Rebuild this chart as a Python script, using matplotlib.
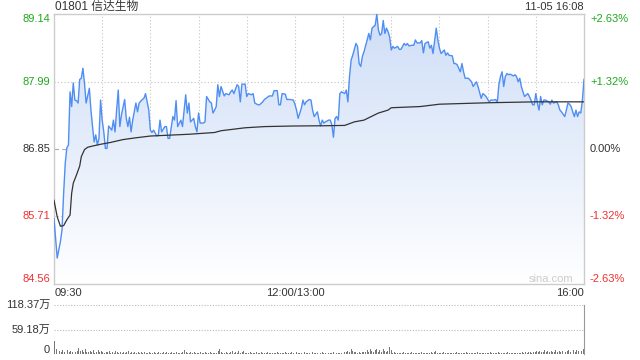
import matplotlib
matplotlib.use('Agg')
import matplotlib.pyplot as plt
import numpy as np
from matplotlib.colors import LinearSegmentedColormap

plt.rcParams['font.family'] = ['Liberation Sans', 'Noto Sans CJK SC', 'DejaVu Sans']

title = '01801 信达生物'
stamp = '11-05 16:08'
prev_close = 86.85
price_ticks = [89.14, 87.99, 86.85, 85.71, 84.56]
pct_labels = ['+2.63%', '+1.32%', '0.00%', '-1.32%', '-2.63%']
time_labels = ['09:30', '12:00/13:00', '16:00']
time_label_min = [0, 150, 330]
vol_ticks = [118.37, 59.18, 0]
vol_tick_labels = ['118.37万', '59.18万', '0']

# minutes since 09:30 (lunch break removed), price
price_min = [0, 2, 4, 5, 6, 7, 8, 9, 10, 11, 12, 13, 14, 15, 16, 17, 18, 19, 20, 22,
             23, 24, 25, 26, 27, 28, 29, 30, 31, 32, 33, 34, 36, 37, 38, 39, 40, 41, 42, 44,
             45, 46, 47, 48, 49, 51, 52, 53, 55, 56, 57, 59, 60, 61, 62, 64, 65, 66, 67, 69,
             70, 71, 72, 74, 75, 76, 77, 79, 80, 82, 83, 84, 85, 87, 88, 89, 90, 91, 93, 94,
             95, 97, 98, 99, 100, 101, 102, 103, 104, 106, 107, 109, 110, 111, 112, 114, 115, 116, 117, 119,
             120, 121, 123, 124, 125, 127, 128, 130, 131, 132, 134, 136, 137, 139, 140, 141, 142, 144, 145, 147,
             149, 150, 151, 152, 154, 155, 156, 157, 159, 160, 161, 162, 164, 165, 166, 167, 168, 169, 171, 172,
             173, 174, 175, 176, 177, 178, 179, 181, 182, 183, 184, 185, 186, 188, 189, 190, 191, 192, 193, 195,
             196, 197, 198, 200, 201, 202, 203, 204, 205, 206, 207, 208, 209, 210, 211, 212, 214, 215, 216, 218,
             219, 220, 221, 223, 224, 225, 226, 228, 229, 230, 231, 233, 234, 235, 236, 238, 239, 240, 241, 243,
             244, 245, 246, 248, 249, 250, 251, 253, 254, 255, 256, 258, 259, 260, 261, 263, 264, 266, 267, 268,
             269, 271, 272, 274, 275, 276, 277, 278, 279, 280, 281, 282, 283, 284, 286, 287, 288, 289, 290, 291,
             292, 293, 295, 296, 297, 298, 299, 300, 301, 302, 303, 304, 305, 306, 308, 309, 310, 311, 313, 314,
             315, 316, 318, 319, 320, 321, 322, 323, 324, 325, 326, 327, 328, 329, 330]
price = [85.67, 85.00, 85.28, 85.48, 86.10, 86.61, 86.87, 86.92, 87.82, 87.57, 87.97, 87.68, 87.67, 87.63, 88.03, 88.05, 88.22, 87.96, 87.63, 87.88,
         87.51, 87.23, 86.97, 87.09, 86.92, 87.03, 87.68, 87.34, 87.14, 86.86, 86.86, 87.24, 87.17, 87.34, 87.14, 87.51, 87.85, 87.23, 87.43, 87.69,
         87.37, 87.23, 87.39, 87.14, 87.34, 87.63, 87.48, 87.63, 87.69, 87.71, 87.79, 87.51, 87.17, 87.13, 87.17, 87.07, 87.09, 87.34, 87.14, 87.23,
         87.23, 87.03, 87.03, 87.40, 87.34, 87.67, 87.23, 87.34, 87.23, 87.77, 87.46, 87.63, 87.31, 87.37, 87.23, 87.14, 87.46, 87.29, 87.29, 87.31,
         87.74, 87.65, 87.63, 87.46, 87.51, 87.57, 87.94, 87.74, 87.91, 87.75, 87.79, 87.77, 87.82, 87.85, 87.79, 87.94, 87.91, 87.65, 87.95, 87.95,
         87.74, 87.79, 87.77, 87.79, 87.63, 87.60, 87.60, 87.65, 87.69, 87.71, 87.75, 87.75, 87.84, 87.84, 87.60, 87.60, 87.79, 87.78, 87.69, 87.69,
         87.68, 87.61, 87.51, 87.37, 87.54, 87.68, 87.60, 87.65, 87.69, 87.68, 87.51, 87.40, 87.48, 87.34, 87.24, 87.34, 87.29, 87.31, 87.34, 87.34,
         87.26, 87.05, 87.37, 87.40, 87.34, 87.79, 87.82, 87.79, 87.85, 87.65, 88.08, 88.36, 88.44, 88.64, 88.59, 88.30, 88.25, 88.42, 88.50, 88.70,
         88.81, 88.70, 88.90, 88.95, 89.14, 88.87, 88.78, 88.81, 89.03, 88.81, 88.90, 88.84, 88.75, 88.53, 88.59, 88.56, 88.59, 88.54, 88.54, 88.64,
         88.61, 88.64, 88.60, 88.61, 88.61, 88.70, 88.65, 88.65, 88.69, 88.48, 88.64, 88.67, 88.56, 88.61, 88.47, 88.90, 88.70, 88.56, 88.47, 88.53,
         88.44, 88.48, 88.44, 88.43, 88.30, 88.30, 88.28, 88.16, 88.30, 88.16, 88.05, 88.05, 88.02, 87.99, 87.91, 87.99, 87.91, 87.71, 87.79, 87.77,
         87.74, 87.65, 87.68, 87.68, 87.69, 87.64, 87.94, 88.08, 88.16, 87.91, 88.08, 88.13, 88.11, 88.12, 88.09, 88.11, 88.08, 87.99, 88.05, 87.91,
         87.82, 87.74, 87.79, 87.74, 87.68, 87.60, 87.60, 87.79, 87.63, 87.51, 87.74, 87.60, 87.68, 87.68, 87.65, 87.61, 87.68, 87.63, 87.65, 87.60,
         87.51, 87.48, 87.40, 87.51, 87.63, 87.61, 87.57, 87.48, 87.40, 87.51, 87.40, 87.48, 87.46, 87.68, 88.03]

avg_min = [0, 2, 4, 6, 8, 10, 11, 12, 14, 16, 17, 19, 21, 24, 29, 35, 43, 51, 60, 84,
           100, 104, 119, 131, 149, 170, 181, 187, 193, 202, 208, 210, 228, 240, 271, 300, 330]
avg_price = [85.98, 85.70, 85.54, 85.55, 85.65, 85.73, 86.10, 86.27, 86.41, 86.56, 86.72, 86.84, 86.88, 86.90, 86.93, 86.96, 87.01, 87.04, 87.07, 87.10,
             87.13, 87.16, 87.21, 87.23, 87.24, 87.245, 87.25, 87.31, 87.34, 87.46, 87.51, 87.55, 87.57, 87.61, 87.635, 87.65, 87.65]

# per-minute volume, in 万 shares
volume = [32, 12, 5, 8, 4, 10, 6, 14, 9, 5,
          7, 4, 11, 6, 8, 15, 7, 9, 5, 12,
          6, 4, 8, 5, 10, 3, 6, 9, 4, 7,
          5, 3, 6, 4, 8, 3, 5, 2, 7, 4,
          3, 6, 2, 5, 3, 4, 7, 2, 4, 3,
          5, 2, 6, 3, 4, 2, 5, 3, 2, 4,
          3, 2, 4, 3, 2, 5, 2, 3, 4, 2,
          6, 3, 2, 4, 2, 3, 5, 2, 3, 2,
          4, 10, 6, 2, 3, 4, 2, 5, 2, 3,
          2, 4, 3, 2, 5, 2, 3, 4, 2, 3,
          2, 3, 7, 12, 4, 2, 3, 5, 2, 3,
          4, 8, 3, 6, 2, 8, 3, 5, 7, 2,
          3, 2, 4, 2, 3, 2, 4, 3, 2, 5,
          2, 3, 2, 4, 2, 3, 2, 3, 2, 4,
          2, 3, 2, 3, 4, 2, 3, 2, 4, 2,
          3, 4, 3, 2, 3, 2, 4, 3, 2, 3,
          2, 4, 2, 3, 2, 3, 2, 4, 3, 2,
          3, 2, 3, 2, 4, 3, 2, 3, 2, 3,
          3, 4, 5, 8, 6, 12, 7, 4, 5, 3,
          4, 3, 5, 4, 6, 9, 5, 11, 7, 4,
          10, 13, 6, 9, 5, 12, 7, 4, 8, 16,
          9, 3, 4, 2, 3, 2, 3, 2, 4, 3,
          2, 3, 2, 4, 2, 3, 2, 3, 2, 4,
          2, 3, 2, 3, 2, 4, 3, 5, 8, 3,
          2, 3, 2, 4, 2, 3, 2, 3, 2, 3,
          2, 4, 2, 3, 2, 3, 2, 4, 2, 3,
          2, 3, 2, 3, 4, 2, 3, 2, 3, 2,
          3, 2, 4, 2, 3, 2, 3, 4, 2, 3,
          2, 3, 2, 4, 2, 3, 2, 3, 2, 3,
          3, 2, 4, 3, 5, 3, 4, 6, 3, 5,
          4, 7, 5, 8, 4, 6, 9, 5, 7, 4,
          8, 5, 6, 9, 4, 7, 5, 8, 10, 6,
          7, 9, 5, 8, 10, 6, 9, 7, 10, 8,
          11]

W, H = 640, 360
GREEN, RED, DARK = '#1fa81f', '#f03030', '#333333'


def fx(x):
    return x / W


def fy(y):
    return 1 - y / H


fig = plt.figure(figsize=(6.4, 3.6), dpi=100)
fig.patch.set_facecolor('white')

# ---------------- price panel ----------------
ax = fig.add_axes([54 / W, 76 / H, 530 / W, 270 / H])
pmin, pmax = price_ticks[-1], price_ticks[0]
ax.set_xticks([])
ax.set_yticks([])
for s in ax.spines.values():
    s.set_color('#cccccc')
    s.set_linewidth(1.0)

for t in range(30, 330, 30):
    ax.axvline(t, color='#c4c4c4', ls=(0, (1, 2)), lw=0.8, zorder=0)
for v in [price_ticks[1], price_ticks[3]]:
    ax.axhline(v, color='#c4c4c4', ls=(0, (1, 2)), lw=0.8, zorder=0)
ax.axhline(prev_close, color='#aaaaaa', ls=(0, (4, 3)), lw=0.8, zorder=0)

grad = np.linspace(1, 0, 256).reshape(-1, 1)
cmap = LinearSegmentedColormap.from_list('g', ['#ffffff', '#e6eefb', '#cfdef7'])
im = ax.imshow(grad, extent=[0, 330, pmin, pmax], aspect='auto', cmap=cmap,
               origin='upper', zorder=1, interpolation='bilinear')
poly = ax.fill_between(price_min, price, pmin, color='none', lw=0)
im.set_clip_path(poly.get_paths()[0], transform=ax.transData)

ax.plot(price_min, price, color='#4f8ef2', lw=1.0, zorder=3)
ax.plot(avg_min, avg_price, color='#333333', lw=0.9, zorder=4)
ax.set_xlim(0, 330)
ax.set_ylim(pmin, pmax)

# price labels
lab_colors = [GREEN, GREEN, DARK, RED, RED]
for i, (v, pl, c) in enumerate(zip(price_ticks, pct_labels, lab_colors)):
    ypix = 14 + (pmax - v) / (pmax - pmin) * 270
    va = 'center'
    if i == 0:
        va = 'top'
    elif i == len(price_ticks) - 1:
        va = 'bottom'
    fig.text(fx(50), fy(ypix), f'{v:.2f}', ha='right', va=va, color=c, fontsize=8)
    fig.text(fx(590), fy(ypix), pl, ha='left', va=va, color=c, fontsize=8)

for lab, m in zip(time_labels, time_label_min):
    xpix = 54 + m / 330 * 530
    ha = 'center'
    if m == 0:
        ha = 'left'
    elif m == 330:
        ha = 'right'
    fig.text(fx(xpix + (1 if m == 0 else 0)), fy(293), lab, ha=ha, va='center', color=DARK, fontsize=8)

fig.text(fx(55), fy(7), title, ha='left', va='center', color=DARK, fontsize=8.5)
fig.text(fx(584), fy(7), stamp, ha='right', va='center', color=DARK, fontsize=8)
fig.text(fx(573), fy(279), 'sina.com', ha='right', va='center', color='#cccccc', fontsize=8)

# ---------------- volume panel ----------------
vax = fig.add_axes([54 / W, 6 / H, 530 / W, 49 / H])
vx = np.arange(len(volume))
vax.bar(vx, volume, width=0.6, color='#777777', lw=0)
vax.set_xlim(-0.5, 330.5)
vax.set_ylim(0, vol_ticks[0])
vax.set_xticks([])
vax.set_yticks([])
for k, s in vax.spines.items():
    s.set_visible(k == 'right')
vax.spines['right'].set_color('#999999')
for v in vol_ticks[:2]:
    vax.axhline(v, color='#bbbbbb', ls=(0, (1, 1.5)), lw=0.8, zorder=0, clip_on=False)
for v, lab in zip(vol_ticks, vol_tick_labels):
    ypix = 354 - v / vol_ticks[0] * 49
    if v == 0:
        ypix = 350
    fig.text(fx(50), fy(ypix), lab, ha='right', va='center', color=DARK, fontsize=8)

fig.savefig('out.png', dpi=100, facecolor='white')
